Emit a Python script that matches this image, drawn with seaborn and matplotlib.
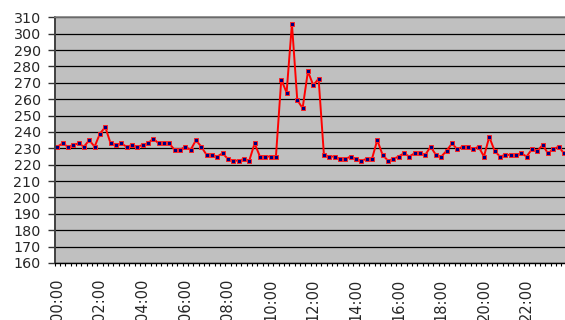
import matplotlib
matplotlib.use("Agg")
import matplotlib.pyplot as plt
import seaborn as sns
import numpy as np
import pandas as pd

# 15-minute readings over one day (96 points)
values = [
    231, 233, 231, 232, 233, 231, 235, 231, 239, 243, 233, 232, 233, 231, 232, 231,
    232, 233, 236, 233, 233, 233, 229, 229, 231, 229, 235, 231, 226, 226, 225, 227,
    223.5, 222.5, 222.5, 223.5, 222.5, 233, 225, 225, 225, 225, 272, 264, 306, 259.5,
    254.5, 277, 268.5, 272.5, 226, 225, 225, 223.5, 223.5, 225, 223.5, 222.5, 223.5, 223.5,
    235, 226, 222.5, 223.5, 225, 227, 225, 227, 227, 226, 231, 226, 225, 228.5, 233, 229.5,
    231, 231, 229.5, 231, 225, 237, 228.5, 225, 226, 226, 226, 227, 225, 229.5, 228.5, 232,
    227, 229.5, 231, 227,
]
tick_labels = ["00:00", "02:00", "04:00", "06:00", "08:00", "10:00",
               "12:00", "14:00", "16:00", "18:00", "20:00", "22:00"]
y_ticks = list(range(160, 311, 10))

df = pd.DataFrame({"slot": np.arange(len(values)), "value": values})

sns.set_style("white")
plt.rcParams["font.family"] = ["DejaVu Sans"]

fig = plt.figure(figsize=(5.65, 3.2), dpi=100)
ax = fig.add_axes([54.6 / 565, 1 - 263 / 320, 512 / 565, (263 - 17.3) / 320])
ax.set_facecolor("#C0C0C0")

sns.lineplot(data=df, x="slot", y="value", ax=ax, color="#FF0000", linewidth=1.4,
             marker="s", markersize=3.2, markerfacecolor="#000080",
             markeredgecolor="#FF2020", markeredgewidth=0.7)

ax.set_xlim(-0.5, len(values) - 0.5)
ax.set_ylim(160, 310)
ax.set_yticks(y_ticks)
ax.yaxis.grid(True, color="black", linewidth=0.9)
ax.set_axisbelow(True)
ax.tick_params(axis="y", direction="out", length=5, width=1, pad=5,
               labelsize=10.3, left=True, color="#333333")

ax.set_xticks(np.arange(0, len(values), 8))
ax.set_xticklabels(tick_labels, rotation=90, va="top")
ax.set_xticks(np.arange(-0.5, len(values), 1), minor=True)
ax.tick_params(axis="x", which="major", length=0, pad=11, labelsize=10.5)
ax.tick_params(axis="x", which="minor", direction="out", length=2.5, width=0.8,
               bottom=True, color="black")

ax.set_xlabel("")
ax.set_ylabel("")
for side in ["top", "right"]:
    ax.spines[side].set_color("#808080")
    ax.spines[side].set_linewidth(1.2)
ax.spines["left"].set_color("#404040")
ax.spines["left"].set_linewidth(1.4)
ax.spines["bottom"].set_color("black")
ax.spines["bottom"].set_linewidth(1.0)

fig.savefig("out.png", dpi=100)
